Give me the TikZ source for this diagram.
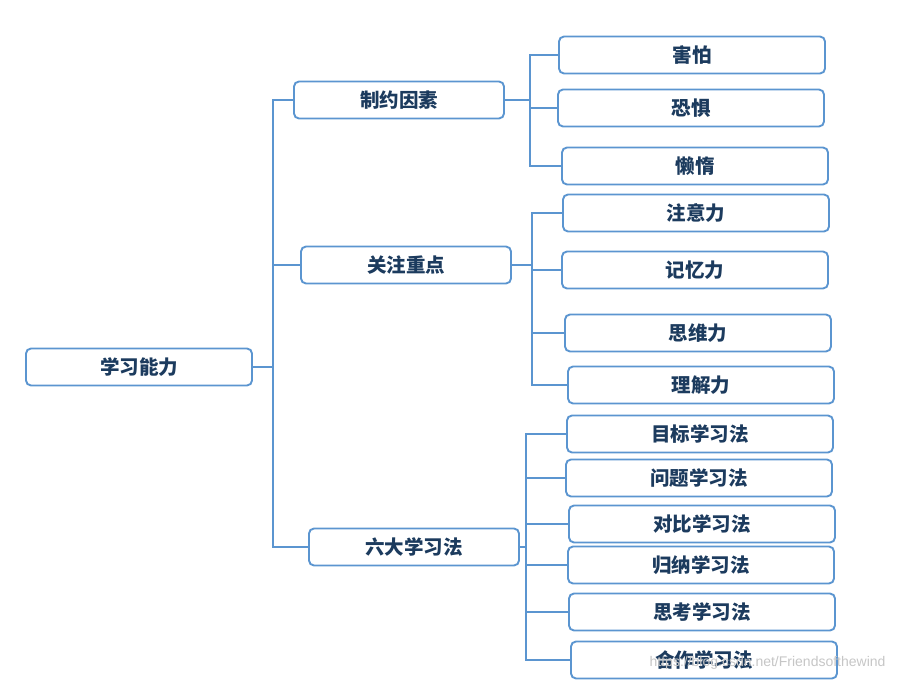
\documentclass[tikz,border=0pt]{standalone}
\usepackage{fontspec}
\newfontfamily\cjk{Noto Sans CJK SC}
\newfontfamily\wmfont{Liberation Sans}
\definecolor{boxblue}{HTML}{5B95D0}
\definecolor{textnavy}{HTML}{1C3B5E}
\tikzset{
    topic/.style={draw=boxblue,line width=1.9pt,rounded corners=5pt,fill=white,
        minimum height=37pt,inner sep=0pt,text=textnavy,
        font=\cjk\bfseries\fontsize{19.5}{22}\selectfont},
    rootbox/.style={topic,minimum width=226pt},
    midbox/.style={topic,minimum width=210pt},
    leafbox/.style={topic,minimum width=266pt},
    link/.style={draw=boxblue,line width=1.9pt}
}
\begin{document}
\begin{tikzpicture}[x=1pt,y=-1pt]
\useasboundingbox (0,0) rectangle (897,682);

    % root and second level
    \node[rootbox] (root) at (139,367) {学习能力};
    \node[midbox] (factor) at (399,100) {制约因素};
    \node[midbox] (focus) at (406,265) {关注重点};
    \node[midbox] (method) at (414,547) {六大学习法};

    % leaves
    \node[leafbox] (fear) at (692,55) {害怕};
    \node[leafbox] (dread) at (691,108) {恐惧};
    \node[leafbox] (lazy) at (695,166) {懒惰};

    \node[leafbox] (attn) at (696,213) {注意力};
    \node[leafbox] (memo) at (695,270) {记忆力};
    \node[leafbox] (think) at (698,333) {思维力};
    \node[leafbox] (under) at (701,385) {理解力};

    \node[leafbox] (goal) at (700,434) {目标学习法};
    \node[leafbox] (quest) at (699,478) {问题学习法};
    \node[leafbox] (compare) at (702,524) {对比学习法};
    \node[leafbox] (induct) at (701,565) {归纳学习法};
    \node[leafbox] (reflect) at (702,612) {思考学习法};
    \node[leafbox] (coop) at (704,660) {合作学习法};

    % connectors
    \foreach \c in {factor,focus,method}
        \draw[link] (root.east) -- ++(20,0) |- (\c.west);
    \foreach \c in {fear,dread,lazy}
        \draw[link] (factor.east) -- ++(25,0) |- (\c.west);
    \foreach \c in {attn,memo,think,under}
        \draw[link] (focus.east) -- ++(20,0) |- (\c.west);
    \foreach \c in {goal,quest,compare,induct,reflect,coop}
        \draw[link] (method.east) -- ++(6,0) |- (\c.west);

    \node[text=gray!45,font=\wmfont\fontsize{14}{16}\selectfont,anchor=east] (wm) at (889,663) {https://blog.csdn.net/Friendsofthewind};

\end{tikzpicture}
\end{document}
